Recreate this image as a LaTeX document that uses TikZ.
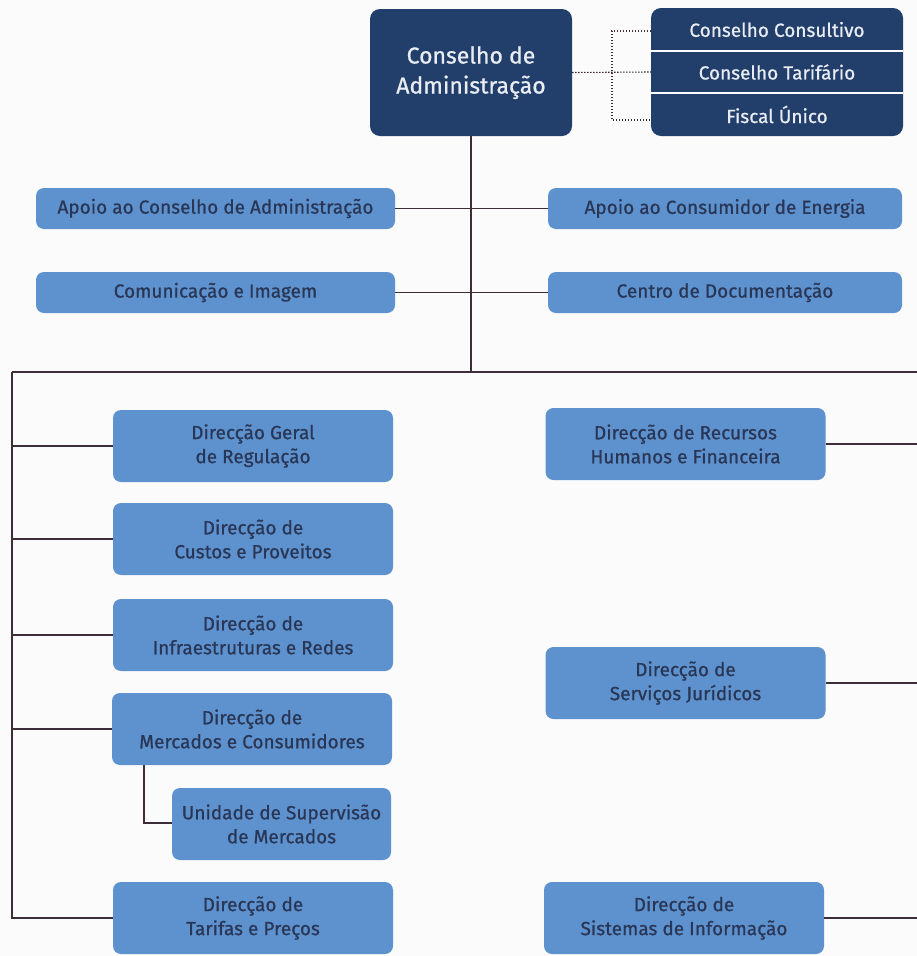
\documentclass[tikz,border=0pt]{standalone}
\usepackage{fontspec}
\setmainfont{Fira Sans}[FakeBold=0.8]
\definecolor{bg}{HTML}{FBFBFB}
\definecolor{navy}{HTML}{223E6B}
\definecolor{navytext}{HTML}{E9EDF3}
\definecolor{lblue}{HTML}{5D92CE}
\definecolor{ltext}{HTML}{2A3655}
\definecolor{wire}{HTML}{3E2C38}
\begin{document}
\begin{tikzpicture}[x=1pt,y=-1pt,
  lbox/.style={rounded corners=8pt, fill=lblue, text=ltext, align=center, inner sep=0pt,
    font=\fontsize{19}{24}\selectfont},
  wide/.style={minimum width=280pt, minimum height=72pt},
  flat/.style={minimum height=41pt},
  dbox/.style={rounded corners=10pt, fill=navy, text=navytext, align=center, inner sep=0pt,
    font=\fontsize{23}{30}\selectfont},
  srow/.style={text=navytext, inner sep=0pt, minimum width=252pt, minimum height=42pt,
    font=\fontsize{19}{22}\selectfont},
  wireline/.style={draw=wire, line width=1.2pt},
  dotline/.style={draw=wire, line width=1.1pt, dash pattern=on 1.3pt off 1.7pt}
]
\useasboundingbox[fill=bg] (0,0) rectangle (917,956);

% top level
\node[dbox, minimum width=202pt, minimum height=127pt] (ca) at (471,72.5)
  {\raisebox{-4pt}{\begin{tabular}{@{}c@{}}Conselho de\\Administração\end{tabular}}};
\fill[navy, rounded corners=10pt] (651,8) rectangle (903,136);
\node[srow] (cc) at (777,29.5) {Conselho Consultivo};
\node[srow] (ct) at (777,72) {Conselho Tarifário};
\node[srow] (fu) at (777,114.5) {Fiscal Único};
\draw[bg, line width=2.6pt] (651,51) -- (903,51);
\draw[bg, line width=2.6pt] (651,93) -- (903,93);

\coordinate (dj) at (612,72);
\coordinate (dt) at (651,31);
\coordinate (db) at (651,120);
\draw[dotline] (ca.east) -- (ct.west);
\draw[dotline] (dt) -| (dj) |- (db);

% staff units
\node[lbox, minimum width=359pt, flat] (aca) at (215.5,208.5) {Apoio ao Conselho de Administração};
\node[lbox, minimum width=354pt, flat] (ace) at (725,208.5) {Apoio ao Consumidor de Energia};
\node[lbox, minimum width=359pt, flat] (ci) at (215.5,292.5) {Comunicação e Imagem};
\node[lbox, minimum width=354pt, flat] (cd) at (725,292.5) {Centro de Documentação};

% directorates left
\node[lbox, wide] (dgr) at (253,446) {Direcção Geral\\de Regulação};
\node[lbox, wide] (dcp) at (253,539) {Direcção de\\Custos e Proveitos};
\node[lbox, wide] (dir) at (253,635) {Direcção de\\Infraestruturas e Redes};
\node[lbox, wide] (dmc) at (252,729) {Direcção de\\Mercados e Consumidores};
\node[lbox, minimum width=219pt, minimum height=72pt] (usm) at (281.5,824) {Unidade de Supervisão\\de Mercados};
\node[lbox, wide] (dtp) at (253,918) {Direcção de\\Tarifas e Preços};

% directorates right
\node[lbox, wide] (drh) at (685.5,444) {Direcção de Recursos\\Humanos e Financeira};
\node[lbox, wide] (dsj) at (685.5,683) {Direcção de\\Serviços Jurídicos};
\node[lbox, wide] (dsi) at (684,918) {Direcção de\\Sistemas de Informação};

% wires
\coordinate (hub) at (471,372);
\coordinate (tl) at (12,372);
\coordinate (tr) at (917,372);
\coordinate (ms) at (144,823);

\draw[wireline] (ca.south) -- (hub);
\draw[wireline] (tl) -- (tr);
\draw[wireline] (aca.east) -- (ace.west);
\draw[wireline] (ci.east) -- (cd.west);
\draw[wireline] (tl) -- (tl |- dtp.west) -- (dtp.west);
\foreach \n in {dgr,dcp,dir,dmc}{
  \draw[wireline] (tl |- \n.west) -- (\n.west);
}
\draw[wireline] (dmc.south -| ms) -- (ms) -- (usm.west |- ms);
\foreach \n in {drh,dsj,dsi}{
  \draw[wireline] (\n.east) -- (\n.east -| tr);
}
\end{tikzpicture}
\end{document}
